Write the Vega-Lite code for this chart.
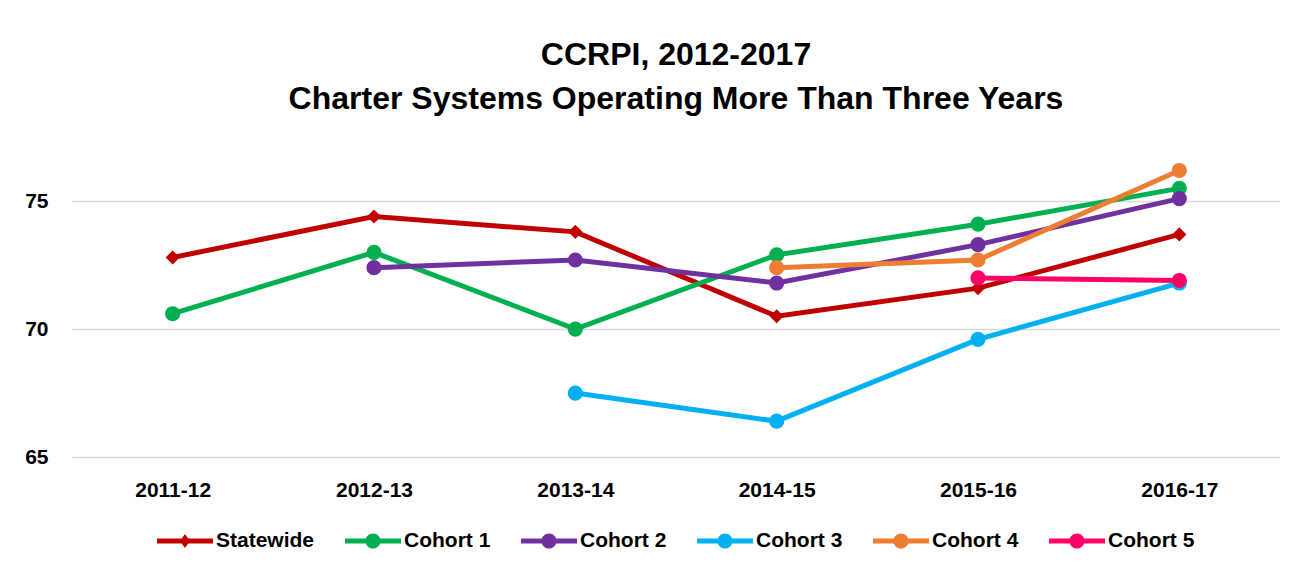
{
  "$schema": "https://vega.github.io/schema/vega-lite/v6.json",
  "width": 1208,
  "height": 307,
  "autosize": {"type": "none"},
  "padding": {"left": 72, "top": 150, "right": 28, "bottom": 121},
  "background": "white",
  "title": {
    "text": ["CCRPI, 2012-2017", "Charter Systems Operating More Than Three Years"],
    "font": "Liberation Sans",
    "fontSize": 32,
    "fontWeight": "bold",
    "color": "#000000",
    "lineHeight": 44,
    "anchor": "middle",
    "offset": 34
  },
  "config": {
    "view": {"stroke": null},
    "font": "Liberation Sans",
    "legend": {"layout": {"bottom": {"anchor": "middle"}}}
  },
  "data": {
    "values": [
      {"year": "2011-12", "series": "Statewide", "value": 72.8},
      {"year": "2012-13", "series": "Statewide", "value": 74.4},
      {"year": "2013-14", "series": "Statewide", "value": 73.8},
      {"year": "2014-15", "series": "Statewide", "value": 70.5},
      {"year": "2015-16", "series": "Statewide", "value": 71.6},
      {"year": "2016-17", "series": "Statewide", "value": 73.7},
      {"year": "2011-12", "series": "Cohort 1", "value": 70.6},
      {"year": "2012-13", "series": "Cohort 1", "value": 73.0},
      {"year": "2013-14", "series": "Cohort 1", "value": 70.0},
      {"year": "2014-15", "series": "Cohort 1", "value": 72.9},
      {"year": "2015-16", "series": "Cohort 1", "value": 74.1},
      {"year": "2016-17", "series": "Cohort 1", "value": 75.5},
      {"year": "2012-13", "series": "Cohort 2", "value": 72.4},
      {"year": "2013-14", "series": "Cohort 2", "value": 72.7},
      {"year": "2014-15", "series": "Cohort 2", "value": 71.8},
      {"year": "2015-16", "series": "Cohort 2", "value": 73.3},
      {"year": "2016-17", "series": "Cohort 2", "value": 75.1},
      {"year": "2013-14", "series": "Cohort 3", "value": 67.5},
      {"year": "2014-15", "series": "Cohort 3", "value": 66.4},
      {"year": "2015-16", "series": "Cohort 3", "value": 69.6},
      {"year": "2016-17", "series": "Cohort 3", "value": 71.8},
      {"year": "2014-15", "series": "Cohort 4", "value": 72.4},
      {"year": "2015-16", "series": "Cohort 4", "value": 72.7},
      {"year": "2016-17", "series": "Cohort 4", "value": 76.2},
      {"year": "2015-16", "series": "Cohort 5", "value": 72.0},
      {"year": "2016-17", "series": "Cohort 5", "value": 71.9}
    ]
  },
  "encoding": {
    "x": {
      "field": "year",
      "type": "ordinal",
      "sort": ["2011-12", "2012-13", "2013-14", "2014-15", "2015-16", "2016-17"],
      "scale": {"padding": 0.5},
      "axis": {
        "title": null,
        "domain": false,
        "ticks": false,
        "grid": false,
        "labelAngle": 0,
        "labelFont": "Liberation Sans",
        "labelFontSize": 21,
        "labelFontWeight": "bold",
        "labelColor": "#000000",
        "labelPadding": 22
      }
    },
    "y": {
      "field": "value",
      "type": "quantitative",
      "scale": {"domain": [65, 77], "zero": false, "nice": false},
      "axis": {
        "title": null,
        "values": [65, 70, 75],
        "domain": false,
        "ticks": false,
        "grid": true,
        "gridColor": "#D9D9D9",
        "gridWidth": 1.5,
        "labelFont": "Liberation Sans",
        "labelFontSize": 21,
        "labelFontWeight": "bold",
        "labelColor": "#000000",
        "labelPadding": 24
      }
    },
    "color": {
      "field": "series",
      "type": "nominal",
      "scale": {
        "domain": ["Statewide", "Cohort 1", "Cohort 2", "Cohort 3", "Cohort 4", "Cohort 5"],
        "range": ["#C00000", "#00B050", "#7030A0", "#00B0F0", "#ED7D31", "#FF0066"]
      },
      "legend": {
        "title": null,
        "orient": "bottom",
        "direction": "horizontal",
        "offset": 13,
        "labelFont": "Liberation Sans",
        "labelFontSize": 21,
        "labelFontWeight": "bold",
        "labelColor": "#000000",
        "labelOffset": 3,
        "columnPadding": 30,
        "symbolSize": 3136,
        "symbolStrokeWidth": 0,
        "encode": {
          "symbols": {
            "update": {
              "shape": [
                {"test": "datum.value === 'Statewide'", "value": "M-1,-0.09L1,-0.09L1,0.09L-1,0.09Z M0,-0.25L0.18,0L0,0.25L-0.18,0Z"},
                {"value": "M-1,-0.09L1,-0.09L1,0.09L-1,0.09Z M0.27,0A0.27,0.27,0,1,1,-0.27,0A0.27,0.27,0,1,1,0.27,0Z"}
              ],
              "fill": {"scale": "color", "field": "value"},
              "strokeWidth": {"value": 0},
              "opacity": {"value": 1}
            }
          }
        }
      }
    }
  },
  "layer": [
    {"mark": {"type": "line", "strokeWidth": 5}},
    {
      "transform": [{"filter": "datum.series === 'Statewide'"}],
      "mark": {"type": "point", "filled": true, "shape": "diamond", "size": 200, "opacity": 1}
    },
    {
      "transform": [{"filter": "datum.series !== 'Statewide'"}],
      "mark": {"type": "point", "filled": true, "shape": "circle", "size": 230, "opacity": 1}
    }
  ]
}
